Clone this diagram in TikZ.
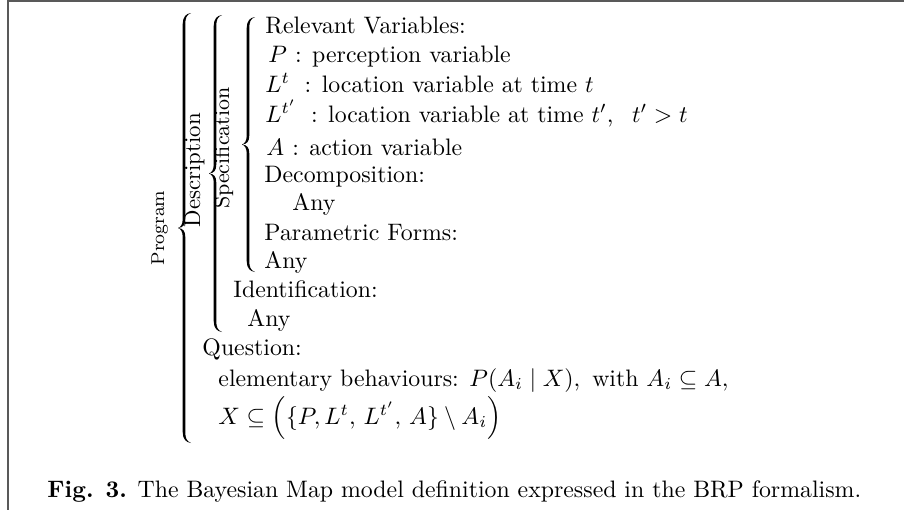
\documentclass[tikz,border=0pt]{standalone}
\usepackage{amsmath}
\tikzset{
  txt/.style={anchor=base west, inner sep=0pt, font=\normalsize},
  lbl/.style={rotate=90, anchor=base, inner sep=0pt},
  brace fill/.style={fill=black},
  frame/.style={draw=black!65, line width=0.8pt}
}
% TeX-like left brace: #1 = x of the vertical stroke, #2 = top y, #3 = bottom y (pixel units, y downward)
\newcommand{\texbrace}[3]{%
  \pgfmathsetmacro{\brmid}{(#2+#3)/2}
  \fill[brace fill]
    (#1+7,#2) .. controls (#1+2,#2+0.5) and (#1-1.3,#2+4) .. (#1-1.3,#2+11)
    -- (#1-1.3,\brmid-9) .. controls (#1-1.3,\brmid-4) and (#1-3,\brmid-1) .. (#1-6,\brmid)
    .. controls (#1-3,\brmid+1) and (#1-1.3,\brmid+4) .. (#1-1.3,\brmid+9)
    -- (#1-1.3,#3-11) .. controls (#1-1.3,#3-4) and (#1+2,#3-0.5) .. (#1+7,#3)
    .. controls (#1+2.5,#3-1.8) and (#1+1.3,#3-5) .. (#1+1.3,#3-11)
    -- (#1+1.3,\brmid+9) .. controls (#1+1.3,\brmid+3) and (#1-1,\brmid+0.4) .. (#1-6,\brmid)
    .. controls (#1-1,\brmid-0.4) and (#1+1.3,\brmid-3) .. (#1+1.3,\brmid-9)
    -- (#1+1.3,#2+11) .. controls (#1+1.3,#2+5) and (#1+2.5,#2+1.8) .. (#1+7,#2) -- cycle;
}
\newcommand{\Lt}{L^{t}\mkern5mu}
\newcommand{\Ltp}{L^{t'}\mkern5mu}
\begin{document}
\begin{tikzpicture}[x=0.42pt,y=-0.42pt]
\useasboundingbox (0,0) rectangle (904,510);
\coordinate (tl) at (8,1);
\coordinate (tr) at (904,1);
\coordinate (bl) at (8,510);
\draw[frame] (tr) -- (tl) -- (bl);
% braces
\texbrace{184}{13}{443}
\texbrace{215}{15}{332}
\texbrace{248}{17}{272}
% labels
\node[lbl, font=\fontsize{7.8pt}{9.5pt}\selectfont] (lprog) at (164,228) {Program};
\node[lbl, font=\fontsize{9.6pt}{11.5pt}\selectfont] (ldesc) at (200,170) {Description};
\node[lbl, font=\fontsize{9pt}{11pt}\selectfont] (lspec) at (229,148) {Specification};
% texts
\node[txt] (t1) at (265,33) {Relevant Variables:};
\node[txt] (t2) at (268,62) {$P$ : perception variable};
\node[txt] (t3) at (265,92) {$\Lt$ : location variable at time $t$};
\node[txt] (t4) at (265,122) {$\Ltp$ : location variable at time $t'$,\ \hspace{4.5pt}$t'>t$};
\node[txt] (t5) at (266,155) {$A$ : action variable};
\node[txt] (t6) at (264,182) {Decomposition:};
\node[txt] (t7) at (292,210) {Any};
\node[txt] (t8) at (264,240) {Parametric Forms:};
\node[txt] (t9) at (264,268) {Any};
\node[txt] (t10) at (233,297) {Identification:};
\node[txt] (t11) at (247,326) {Any};
\node[txt] (t12) at (202,355) {Question:};
\node[txt] (t13) at (218,386) {elementary behaviours: $P(A_i \mid X),\ \text{with}\ A_i \subseteq A,$};
\node[txt] (t14) at (218,424) {$X \subseteq \Bigl(\{P, L^t,\mkern3mu L^{t'},\mkern3mu A\} \setminus A_i\Bigr)$};
\node[txt] (cap) at (47,497) {\textbf{Fig. 3.} The Bayesian Map model definition expressed in the BRP formalism.};
\end{tikzpicture}
\end{document}
